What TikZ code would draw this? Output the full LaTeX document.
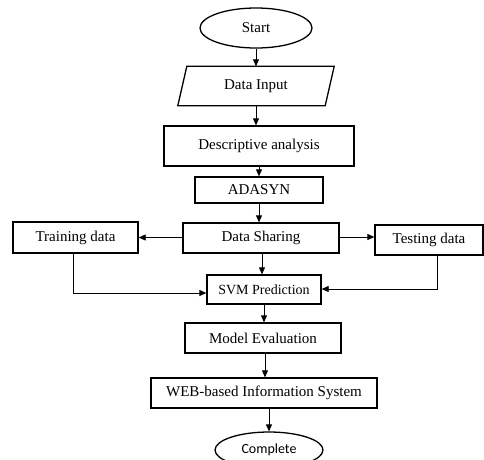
\documentclass[tikz,border=0pt]{standalone}
\usepackage{fontspec}
\setmainfont{Liberation Serif}
\newfontfamily\carlito{Carlito}
\usetikzlibrary{arrows.meta,shapes.geometric}
\begin{document}
\begin{tikzpicture}[x=1pt,y=-1pt,
  box/.style={draw, line width=1.3pt, inner sep=0pt, font=\fontsize{15}{18}\selectfont},
  oval/.style={draw, ellipse, line width=1.3pt, inner sep=0pt},
  arr/.style={line width=0.8pt, -{Triangle[length=7pt,width=6pt]}}]
\clip (0,0) rectangle (484,459);
\fill[white] (0,0) rectangle (484,459);
\node[oval, minimum width=112, minimum height=40, font=\fontsize{15}{18}\selectfont] (start) at (256,28) {Start};
\node[inner sep=0pt, minimum width=147, minimum height=39, font=\fontsize{15}{18}\selectfont] (input) at (256,86) {Data Input};
\draw[line width=1.3pt] ([xshift=4.5pt]input.north west) -- ([xshift=4.5pt]input.north east) -- ([xshift=-4.5pt]input.south east) -- ([xshift=-4.5pt]input.south west) -- cycle;
\node[box, minimum width=190, minimum height=40] (desc) at (259,146) {Descriptive analysis};
\node[box, minimum width=128, minimum height=26] (adasyn) at (259,190) {ADASYN};
\node[box, minimum width=156, minimum height=30] (share) at (261,238) {Data Sharing};
\node[box, minimum width=125, minimum height=31] (train) at (75.5,237.5) {Training data};
\node[box, minimum width=108, minimum height=30] (test) at (429,240) {Testing data};
\node[box, minimum width=114, minimum height=29, font=\fontsize{14}{17}\selectfont] (svm) at (264,289.5) {SVM Prediction};
\node[box, minimum width=156, minimum height=30] (model) at (263,338) {Model Evaluation};
\node[box, minimum width=226, minimum height=30] (web) at (264,393) {WEB-based Information System};
\node[oval, minimum width=108, minimum height=36, font=\carlito\fontsize{14}{17}\selectfont] (complete) at (269,450) {Complete};

\draw[arr] (start.south) -- (start.south |- input.north);
\draw[arr] (input.south) -- (input.south |- desc.north);
\draw[arr] (desc.south) -- (desc.south |- adasyn.north);
\draw[arr] (adasyn.south) -- (adasyn.south |- share.north);
\draw[arr] ([xshift=1pt]share.south) -- ([xshift=1pt]share.south |- svm.north);
\draw[arr] (share.west |- train.east) -- (train.east);
\draw[arr] (share.east |- 0,237) -- (test.west |- 0,237);
\draw[arr] ([xshift=-2.5pt]train.south) |- ([yshift=-3.5pt]svm.west);
\draw[arr] ([xshift=8pt]test.south) |- ([yshift=0.5pt]svm.east);
\draw[arr] (svm.south) -- (svm.south |- model.north);
\draw[arr] ([xshift=2pt]model.south) -- ([xshift=2pt]model.south |- web.north);
\draw[arr] ([xshift=5pt]web.south) -- ([xshift=5pt]web.south |- complete.north);
\end{tikzpicture}
\end{document}
